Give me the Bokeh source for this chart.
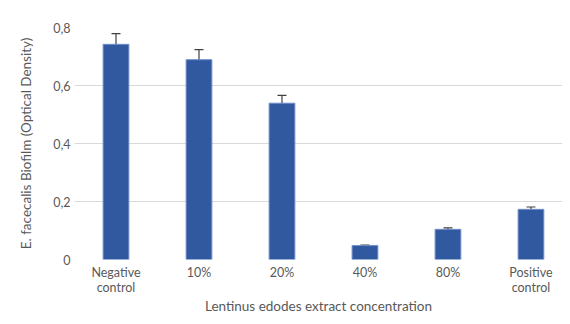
from bokeh.plotting import figure
from bokeh.models import ColumnDataSource, FixedTicker, Whisker, TeeHead, Range1d
from bokeh.embed import file_html
from bokeh.resources import INLINE

categories = ["Negative\ncontrol", "10%", "20%", "40%", "80%", "Positive\ncontrol"]
values = [0.742, 0.689, 0.539, 0.048, 0.104, 0.173]
errors = [0.037, 0.035, 0.027, 0.002, 0.005, 0.008]
y_ticks = [0, 0.2, 0.4, 0.6, 0.8]
y_tick_labels = ["0", "0,2", "0,4", "0,6", "0,8"]
x_title = "Lentinus edodes extract concentration"
y_title = "E. facecalis Biofilm (Optical Density)"

xs = [i + 0.5 for i in range(len(categories))]
source = ColumnDataSource(dict(
    x=xs, top=values,
    upper=[v + e for v, e in zip(values, errors)],
    lower=[v - e for v, e in zip(values, errors)],
))

FONT = "Lato"
TXT = "#595959"
GRID = "#d9d9d9"

p = figure(width=562, height=316, output_backend="svg", toolbar_location=None,
           x_range=Range1d(0, 5.88), y_range=Range1d(0, 0.8),
           min_border_left=74, min_border_right=0, min_border_top=27, min_border_bottom=44)
p.outline_line_color = None
p.background_fill_color = "white"
p.border_fill_color = "white"

p.vbar(x="x", top="top", width=0.31, source=source,
       fill_color="#3059A0", line_color="#6f8fc8", line_width=1)

w = Whisker(base="x", upper="upper", lower="lower", source=source,
            line_color="#404040", line_width=1.2,
            upper_head=TeeHead(size=9, line_color="#404040", line_width=1.2),
            lower_head=TeeHead(size=9, line_color="#404040", line_width=1.2))
p.add_layout(w)

p.xgrid.grid_line_color = None
p.ygrid.grid_line_color = GRID
p.ygrid.grid_line_width = 1

p.xaxis.ticker = FixedTicker(ticks=xs)
p.xaxis.major_label_overrides = {x: c for x, c in zip(xs, categories)}
p.yaxis.ticker = FixedTicker(ticks=y_ticks)
p.yaxis.major_label_overrides = {t: l for t, l in zip(y_ticks, y_tick_labels)}

for ax in (p.xaxis, p.yaxis):
    ax.axis_line_color = None
    ax.major_tick_line_color = None
    ax.minor_tick_line_color = None
    ax.major_tick_in = 0
    ax.major_tick_out = 0
    ax.minor_tick_in = 0
    ax.minor_tick_out = 0
    ax.major_label_text_font = FONT
    ax.major_label_text_font_size = "12.5px"
    ax.major_label_text_color = TXT
    ax.major_label_text_line_height = 1.0
    ax.axis_label_text_font = FONT
    ax.axis_label_text_font_size = "13.5px"
    ax.axis_label_text_color = TXT
    ax.axis_label_text_font_style = "normal"
    ax.axis_label_text_line_height = 1.0

p.xaxis.major_label_standoff = 5
p.yaxis.major_label_standoff = 4
p.xaxis.axis_label = x_title
p.xaxis.axis_label_standoff = 0
p.yaxis.axis_label = y_title
p.yaxis.axis_label_standoff = 16

open("out.html", "w").write(file_html(p, INLINE))
